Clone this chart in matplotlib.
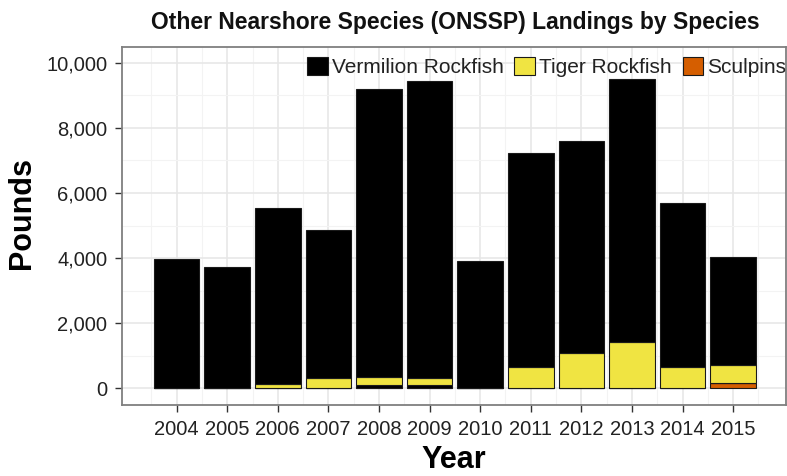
import matplotlib
matplotlib.use("Agg")
import matplotlib.pyplot as plt
from matplotlib.patches import Patch
from matplotlib.ticker import FuncFormatter, MultipleLocator
import numpy as np

plt.rcParams['font.family'] = ['Liberation Sans', 'DejaVu Sans']

# datos (libras)
years = [2004, 2005, 2006, 2007, 2008, 2009, 2010, 2011, 2012, 2013, 2014, 2015]
totals = [3970, 3735, 5530, 4860, 9200, 9445, 3915, 7240, 7600, 9500, 5700, 4020]
sculpins = [0, 0, 0, 0, 0, 0, 0, 0, 0, 0, 0, 160]
vermilion_low = [0, 0, 0, 0, 90, 90, 0, 0, 0, 0, 0, 0]  # franja negra bajo el amarillo
tiger = [0, 0, 110, 300, 255, 205, 0, 645, 1065, 1415, 645, 550]
species = ["Vermilion Rockfish", "Tiger Rockfish", "Sculpins"]
colors = ["#000000", "#F0E442", "#D55E00"]

x = np.array(years)
b0 = np.array(sculpins)
b1 = b0 + np.array(vermilion_low)
b2 = b1 + np.array(tiger)
verm_top = np.array(totals) - b2

fig = plt.figure(figsize=(7.87, 4.76), dpi=100)
ax = fig.add_axes([0.155, 0.149, 0.8434, 0.753])

kw = dict(width=0.9, edgecolor="#1a1a1a", linewidth=0.8, zorder=3)
ax.bar(x, sculpins, color=colors[2], **kw)
ax.bar(x, vermilion_low, bottom=b0, color=colors[0], **kw)
ax.bar(x, tiger, bottom=b1, color=colors[1], **kw)
ax.bar(x, verm_top, bottom=b2, color=colors[0], **kw)

ax.set_xlim(2002.92, 2016.04)
ax.set_ylim(-523, 10502)
ax.set_xticks(years)
ax.xaxis.set_minor_locator(MultipleLocator(1, offset=0.5))
ax.yaxis.set_major_locator(MultipleLocator(2000))
ax.yaxis.set_minor_locator(MultipleLocator(1000))
ax.yaxis.set_major_formatter(FuncFormatter(lambda v, p: f"{int(v):,}"))

ax.grid(which="major", color="#e6e6e6", linewidth=1.1, zorder=0)
ax.grid(which="minor", color="#f3f3f3", linewidth=0.8, zorder=0)
ax.set_axisbelow(True)
for s in ax.spines.values():
    s.set_color("#7f7f7f")
    s.set_linewidth(1.3)
ax.tick_params(which="major", length=5, width=1, color="#333333",
               labelsize=14.5, labelcolor="#222222")
ax.tick_params(axis="y", pad=5.5)
ax.tick_params(axis="x", pad=6)
ax.tick_params(which="minor", length=0)

ax.set_xlabel("Year", fontsize=22, fontweight="bold", va="center")
ax.xaxis.set_label_coords(0.5, -0.154)
ax.set_ylabel("Pounds", fontsize=22, fontweight="bold", va="center", ha="center")
ax.yaxis.set_label_coords(-0.151, 0.536)
fig.text(0.578, 0.952, "Other Nearshore Species (ONSSP) Landings by Species",
         ha="center", va="center", fontsize=16.5, fontweight="bold", color="#111111")

handles = [Patch(facecolor=c, edgecolor="#1a1a1a", linewidth=0.8) for c in colors]
leg = ax.legend(handles, species, loc="upper right", ncol=3, frameon=False,
                bbox_to_anchor=(1.02, 1.007), fontsize=15, handlelength=1.0,
                handleheight=1.0, handletextpad=0.2, columnspacing=0.5,
                borderaxespad=0.2)
for t in leg.get_texts():
    t.set_color("#222222")

plt.savefig("out.png", dpi=100)
